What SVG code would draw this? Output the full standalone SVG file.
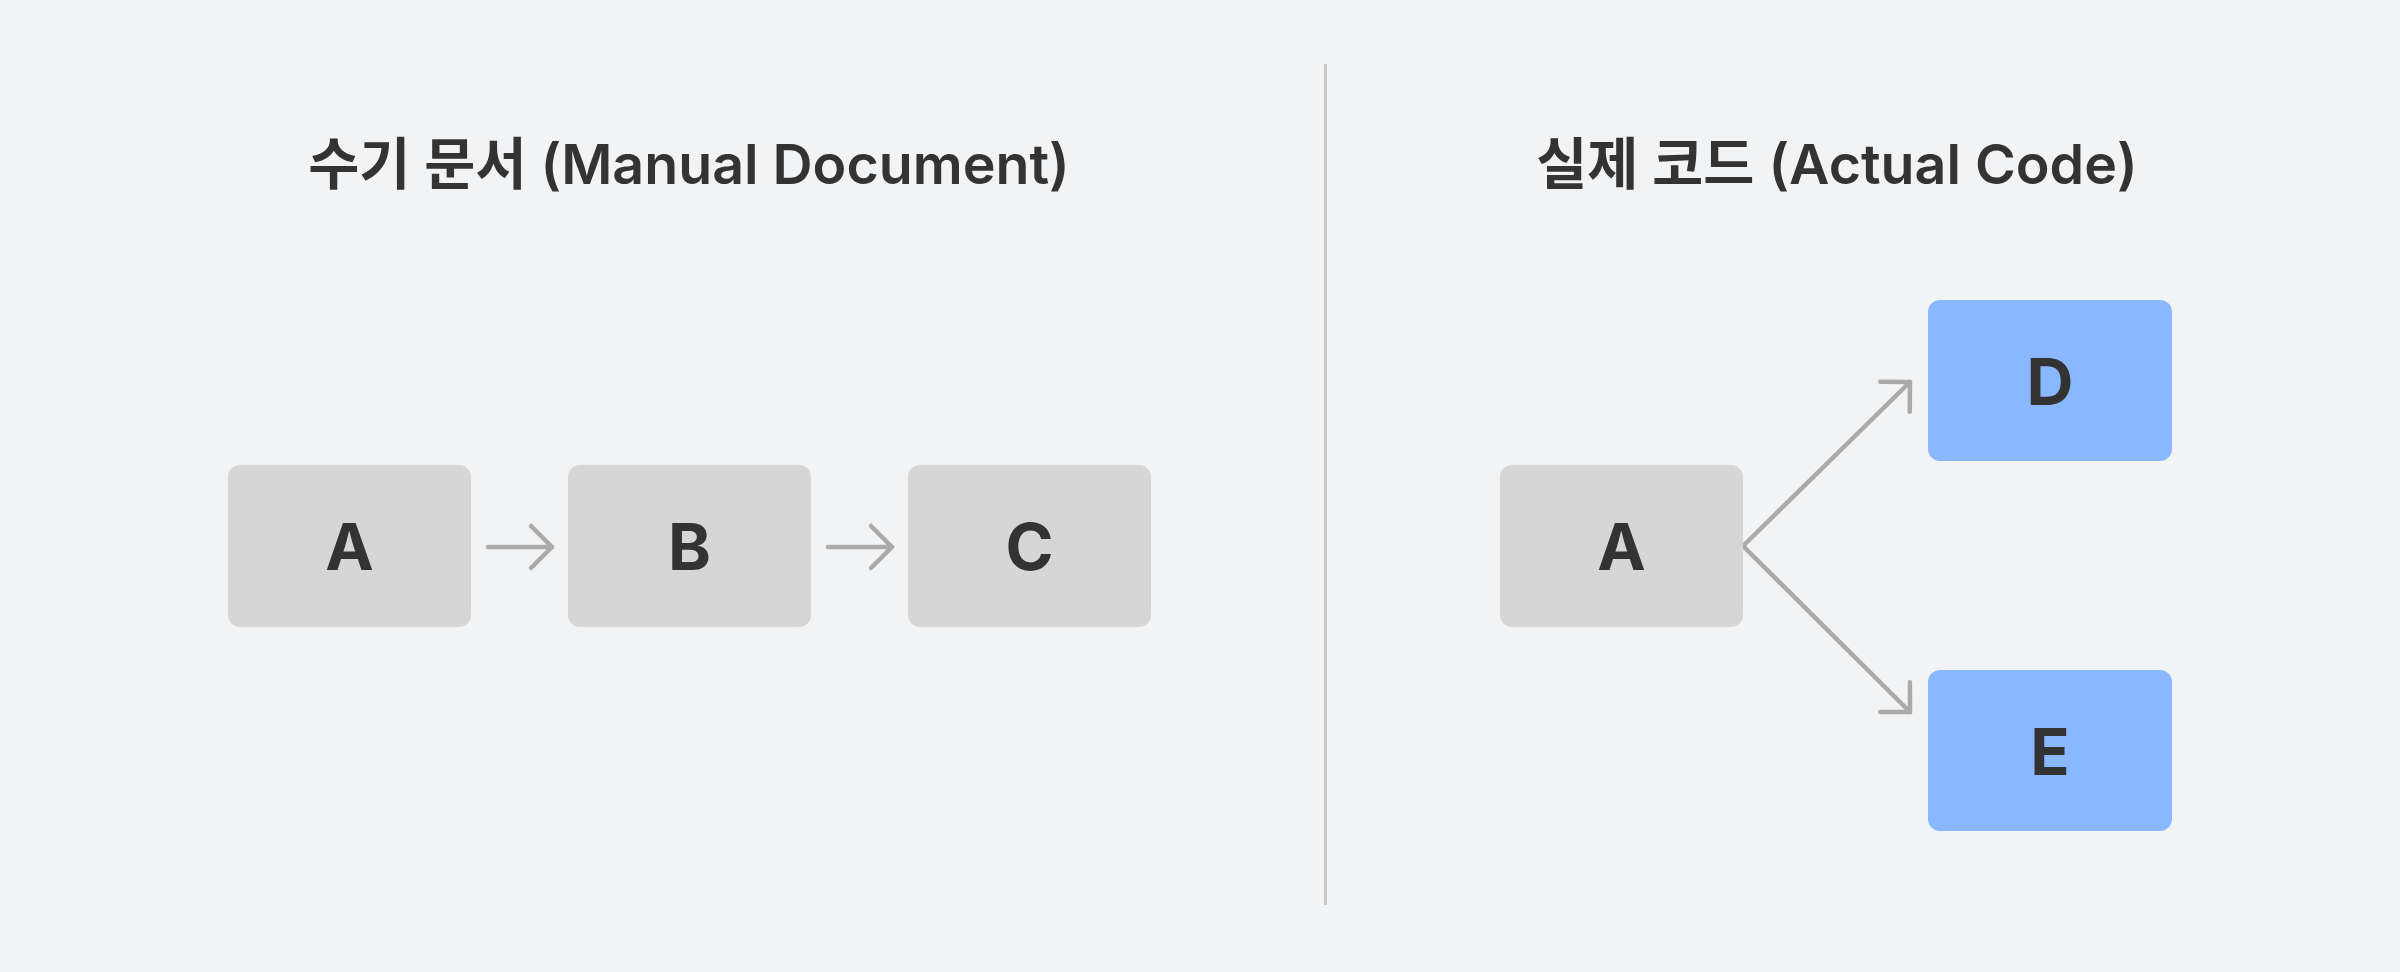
<svg xmlns="http://www.w3.org/2000/svg" width="2400" height="972" viewBox="0 0 2400 972">
<defs>
<style>
.bg{fill:#f2f3f5}
.title{font-family:Inter,"Noto Sans CJK KR","Noto Sans",sans-serif;font-size:55.5px;font-weight:600;fill:#333333;text-anchor:middle}
.lbl{font-family:Inter,"Noto Sans",sans-serif;font-size:65px;font-weight:700;fill:#333333;text-anchor:middle}
.gray{fill:#d6d6d6}
.blue{fill:#89b8ff}
.conn{stroke:#aaaaaa;stroke-width:4.5;fill:none;stroke-linecap:round;stroke-linejoin:round}
</style>
<marker id="chev" markerUnits="userSpaceOnUse" viewBox="-30 -30 40 60" refX="0" refY="0" markerWidth="40" markerHeight="60" orient="auto" overflow="visible">
<path d="M -21 -21 L 0 0 L -21 21" fill="none" stroke="#aaaaaa" stroke-width="4.5" stroke-linecap="round" stroke-linejoin="round"/>
</marker>
</defs>
<rect class="bg" x="0" y="0" width="2400" height="972"/>
<line x1="1325.5" y1="64" x2="1325.5" y2="905" stroke="#c8c8c8" stroke-width="3"/>
<text class="title" x="689" y="184">수기 문서 (Manual Document)</text>
<text class="title" x="1837" y="184">실제 코드 (Actual Code)</text>
<g id="connectors">
<line class="conn" x1="488" y1="547" x2="552" y2="547" marker-end="url(#chev)"/>
<line class="conn" x1="828" y1="547" x2="892" y2="547" marker-end="url(#chev)"/>
<line class="conn" x1="1743" y1="546" x2="1910" y2="382" marker-end="url(#chev)"/>
<line class="conn" x1="1743" y1="546" x2="1910" y2="712" marker-end="url(#chev)"/>
</g>
<g id="node-left-a">
<rect class="gray" x="228" y="465" width="243" height="162" rx="12"/>
<text class="lbl" x="349.5" y="570">A</text>
</g>
<g id="node-left-b">
<rect class="gray" x="568" y="465" width="243" height="162" rx="12"/>
<text class="lbl" x="689.5" y="570">B</text>
</g>
<g id="node-left-c">
<rect class="gray" x="908" y="465" width="243" height="162" rx="12"/>
<text class="lbl" x="1029.5" y="570">C</text>
</g>
<g id="node-right-a">
<rect class="gray" x="1500" y="465" width="243" height="162" rx="12"/>
<text class="lbl" x="1621.5" y="570">A</text>
</g>
<g id="node-right-d">
<rect class="blue" x="1928" y="300" width="244" height="161" rx="12"/>
<text class="lbl" x="2050" y="405">D</text>
</g>
<g id="node-right-e">
<rect class="blue" x="1928" y="670" width="244" height="161" rx="12"/>
<text class="lbl" x="2050" y="775">E</text>
</g>
</svg>
